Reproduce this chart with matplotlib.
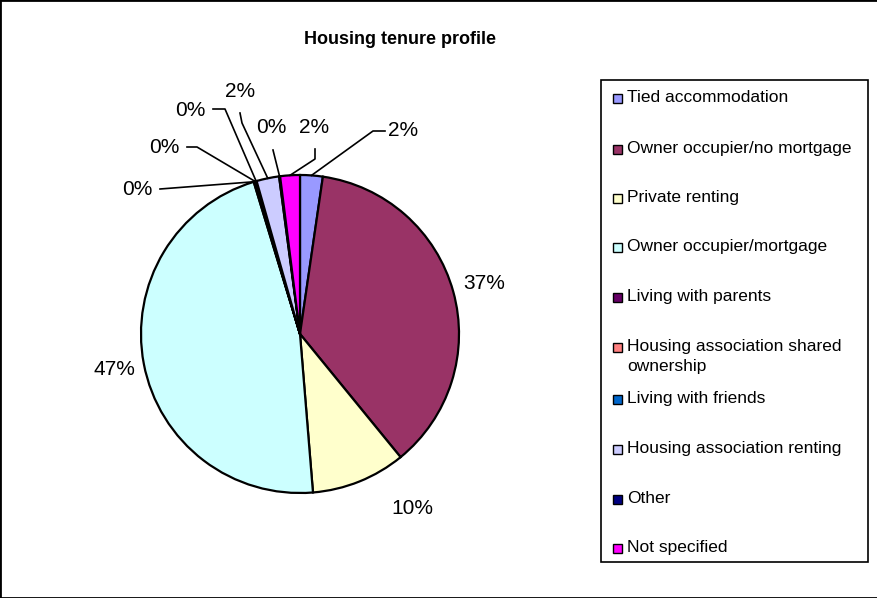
import numpy as np
import matplotlib
matplotlib.use("Agg")
import matplotlib.pyplot as plt
from matplotlib.patches import Rectangle

plt.rcParams['font.family'] = ['Liberation Sans', 'DejaVu Sans']

# data
categories = ["Tied accommodation", "Owner occupier/no mortgage", "Private renting",
              "Owner occupier/mortgage", "Living with parents",
              "Housing association shared\nownership", "Living with friends",
              "Housing association renting", "Other", "Not specified"]
shares = [2.3, 36.8, 9.6, 46.6, 0.1, 0.1, 0.1, 2.3, 0.1, 2.0]
colors = ["#9999FF", "#993366", "#FFFFCC", "#CCFFFF", "#660066",
          "#FF8080", "#0066CC", "#CCCCFF", "#000080", "#FF00FF"]

# layout, in pixels of the 878x598 picture
W, H = 878, 598
CX, CY, R = 300, 334, 159


def px(x, y):
    # pixel -> data units (pie radius = 1)
    return (x - CX) / R, (CY - y) / R


# label centre and leader line points (label side first) for each slice
label_pos = [(403, 131), (484, 284), (412, 508), (114, 370), (137, 190),
             (164, 148), (190, 110), (240, 92), (271, 128), (314, 128)]
leader = [[(385, 131), (373, 131)], None, None, None, [(160, 189)],
          [(187, 147), (197, 147)], [(213, 109), (225, 109)],
          [(240, 113), (242, 123)], [(273, 150)], [(315, 149), (315, 159)]]

fig = plt.figure(figsize=(W / 100, H / 100), dpi=100)
ax = fig.add_axes([0, 0, 1, 1])

wedges, _ = ax.pie(shares, colors=colors, startangle=90, counterclock=False,
                   radius=1, wedgeprops=dict(edgecolor="black", linewidth=1.6))

ax.set_xlim(-CX / R, (W - CX) / R)
ax.set_ylim((CY - H) / R, CY / R)
ax.set_aspect("equal")
ax.axis("off")

# percentage labels
for i, w in enumerate(wedges):
    tx, ty = px(*label_pos[i])
    ax.text(tx, ty, f"{shares[i]:.0f}%", fontsize=15, ha="center", va="center")
    if leader[i] is not None:
        mid = np.deg2rad((w.theta1 + w.theta2) / 2)
        pts = [px(*p) for p in leader[i]] + [(np.cos(mid), np.sin(mid))]
        ax.plot([p[0] for p in pts], [p[1] for p in pts], color="black", lw=1.2)

# title
ax.text(*px(400, 40), "Housing tenure profile", fontsize=13, fontweight="bold",
        ha="center", va="center")

# legend box drawn by hand so the two-line entry keeps the even spacing
x0, y0 = px(601, 562)
x1, y1 = px(868, 80)
ax.add_patch(Rectangle((x0, y0), x1 - x0, y1 - y0, facecolor="white",
                       edgecolor="black", lw=1.2))
row_y = [99, 150, 199, 248, 298, 348, 400, 450, 500, 549]
for i, name in enumerate(categories):
    sx, sy = px(613, row_y[i] + 4)
    ax.add_patch(Rectangle((sx, sy), 9 / R, 9 / R, facecolor=colors[i],
                           edgecolor="black", lw=1))
    ax.text(*px(627, row_y[i] - 9), name, fontsize=12.5, ha="left", va="top",
            linespacing=1.45)

# outer frame
fig.add_artist(Rectangle((0, 0), 1, 1, transform=fig.transFigure, fill=False,
                         edgecolor="black", lw=2))

plt.savefig("out.png", dpi=100)
